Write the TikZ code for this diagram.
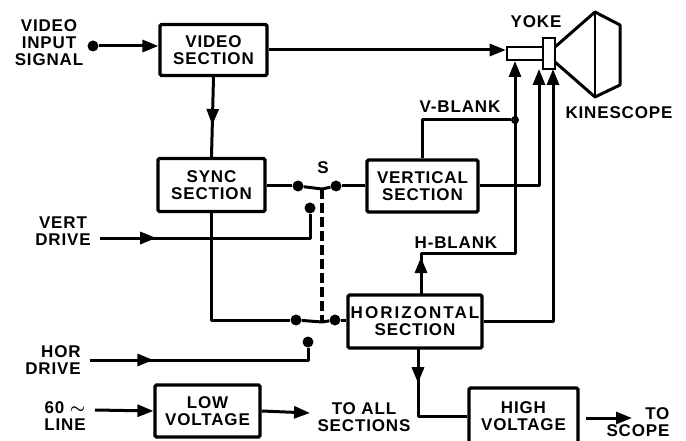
\documentclass[tikz,border=0pt]{standalone}
\usepackage{fontspec}
\setmainfont[LetterSpace=5]{Liberation Sans Bold}
\usetikzlibrary{arrows.meta,decorations.markings}
\tikzset{
    wire/.style={line width=3pt, line join=round},
    tip/.style={-{Triangle[length=16pt, width=12pt]}},
    midarrow/.style={postaction={decorate}, decoration={markings,
        mark=at position #1 with {\arrow{Triangle[length=16pt, width=12pt]}}}},
    block/.style={draw, line width=3.2pt, rounded corners=1.5pt, inner sep=0pt, align=center,
        font=\fontsize{17}{17}\selectfont},
    lbl/.style={inner sep=0pt, align=center, font=\fontsize{17}{17}\selectfont},
    sdot/.style={circle, fill=black, inner sep=0pt, minimum size=11pt},
    yokepart/.style={draw, line width=2.6pt, fill=white, inner sep=0pt}
}
\begin{document}
\begin{tikzpicture}[x=1pt, y=-1pt]
    \useasboundingbox (0, 0) rectangle (686, 441);

    \node[block, minimum width=107pt, minimum height=51pt] (videosec) at (213.5, 50) {VIDEO\\SECTION};
    \node[block, minimum width=107pt, minimum height=53pt] (syncsec) at (211.5, 185) {SYNC\\SECTION};
    \node[block, minimum width=111pt, minimum height=52pt] (vertsec) at (422.5, 186) {VERTICAL\\SECTION};
    \node[block, minimum width=134pt, minimum height=53pt] (horsec) at (415, 321.5) {\addfontfeature{LetterSpace=12}HORIZONTAL\\SECTION};
    \node[block, minimum width=105pt, minimum height=52pt] (lowvolt) at (207.5, 411) {LOW\\VOLTAGE};
    \node[block, minimum width=109pt, minimum height=56pt] (highvolt) at (523.5, 416) {HIGH\\VOLTAGE};

    \node[lbl] (inputlbl) at (49, 43) {VIDEO\\INPUT\\SIGNAL};
    \node[lbl] (vertlbl) at (63, 231) {VERT\\DRIVE};
    \node[lbl, align=right] (horlbl) at (53, 360) {HOR\\DRIVE};
    \node[lbl] (linelbl) at (65, 416) {60 {\boldmath$\sim$}\\LINE};
    \node[lbl] (alllbl) at (364, 417) {TO ALL\\SECTIONS};
    \node[lbl, align=right] (scopelbl) at (638, 422) {TO\\SCOPE};
    \node[lbl] (slbl) at (323, 168) {S};
    \node[lbl] (vblanklbl) at (460, 107) {V-BLANK};
    \node[lbl] (hblanklbl) at (456, 243) {H-BLANK};
    \node[lbl] (yokelbl) at (536, 22) {YOKE};
    \node[lbl] (kinelbl) at (619, 113) {KINESCOPE};

    % kinescope
    \draw[line width=3pt, line join=round] (555, 47) -- (595, 12) -- (620, 25) -- (620, 85) -- (595, 97) -- (555, 62);
    \draw[line width=2.6pt] (595, 14) -- (595, 95);

    % yoke
    \node[yokepart, minimum width=36pt, minimum height=13pt] (yokeh) at (525, 53.5) {};
    \node[yokepart, minimum width=12pt, minimum height=31pt] (yokev) at (549, 53.5) {};

    \node[sdot] (inputdot) at (93, 46) {};
    \node[sdot] (vsync) at (298, 186) {};
    \node[sdot] (vout) at (336, 186) {};
    \node[sdot] (vdrive) at (310, 208) {};
    \node[sdot] (hsync) at (296, 320) {};
    \node[sdot] (hout) at (335, 320) {};
    \node[sdot] (hdrive) at (308, 342) {};
    \node[sdot, minimum size=8pt] (vjoin) at (515, 120) {};

    \coordinate (vbend) at (322, 189);
    \coordinate (hbend) at (322, 322);
    \coordinate (vertin) at (100, 238);
    \coordinate (horin) at (90, 360);
    \coordinate (linein) at (95, 410);
    \coordinate (blankin) at (515, 61);
    \coordinate (vertyoke) at (539, 69);
    \coordinate (horyoke) at (553, 69);
    \coordinate (hblankout) at (421, 294);
    \coordinate (hvout) at (418, 348);
    \coordinate (hjoin) at (515, 253);
    \coordinate (allout) at (310, 413);
    \coordinate (scopein) at (586, 418);
    \coordinate (scopeout) at (632, 418);

    \draw[wire, tip] (inputdot) -- (videosec.west |- inputdot);
    \draw[wire, tip] (videosec.east) -- (yokeh.west |- videosec.east);
    \draw[wire, midarrow=0.6] (videosec.south) -- (syncsec.north);

    \draw[wire] (syncsec.east |- vsync) -- (vsync);
    \draw[wire] (vsync) -- (vbend) -- (vout);
    \draw[wire] (vout) -- (vertsec.west |- vout);
    \draw[wire, midarrow=0.24] (vertin) -| (vdrive);

    \draw[wire] (syncsec.south) |- (hsync);
    \draw[wire] (hsync) -- (hbend) -- (hout);
    \draw[wire] (hout) -- (horsec.west |- hout);
    \draw[wire, midarrow=0.275] (horin) -| (hdrive);
    \draw[line width=3.4pt, dash pattern=on 10pt off 4pt] (vbend) -- (hbend);

    \draw[wire] (vertsec.north) |- (vjoin);
    \draw[wire, tip] (vertsec.east) -| (vertyoke);
    \draw[wire, midarrow=0.113, tip] (hblankout) |- (hjoin) -- (blankin);
    \draw[wire, tip] (horsec.east) -| (horyoke);

    \draw[wire, midarrow=0.3] (hvout) |- (highvolt.west);
    \draw[wire, tip] (linein) -- (lowvolt.west);
    \draw[wire, tip] (lowvolt.east) -- (allout);
    \draw[wire, tip] (scopein) -- (scopeout);
\end{tikzpicture}
\end{document}
